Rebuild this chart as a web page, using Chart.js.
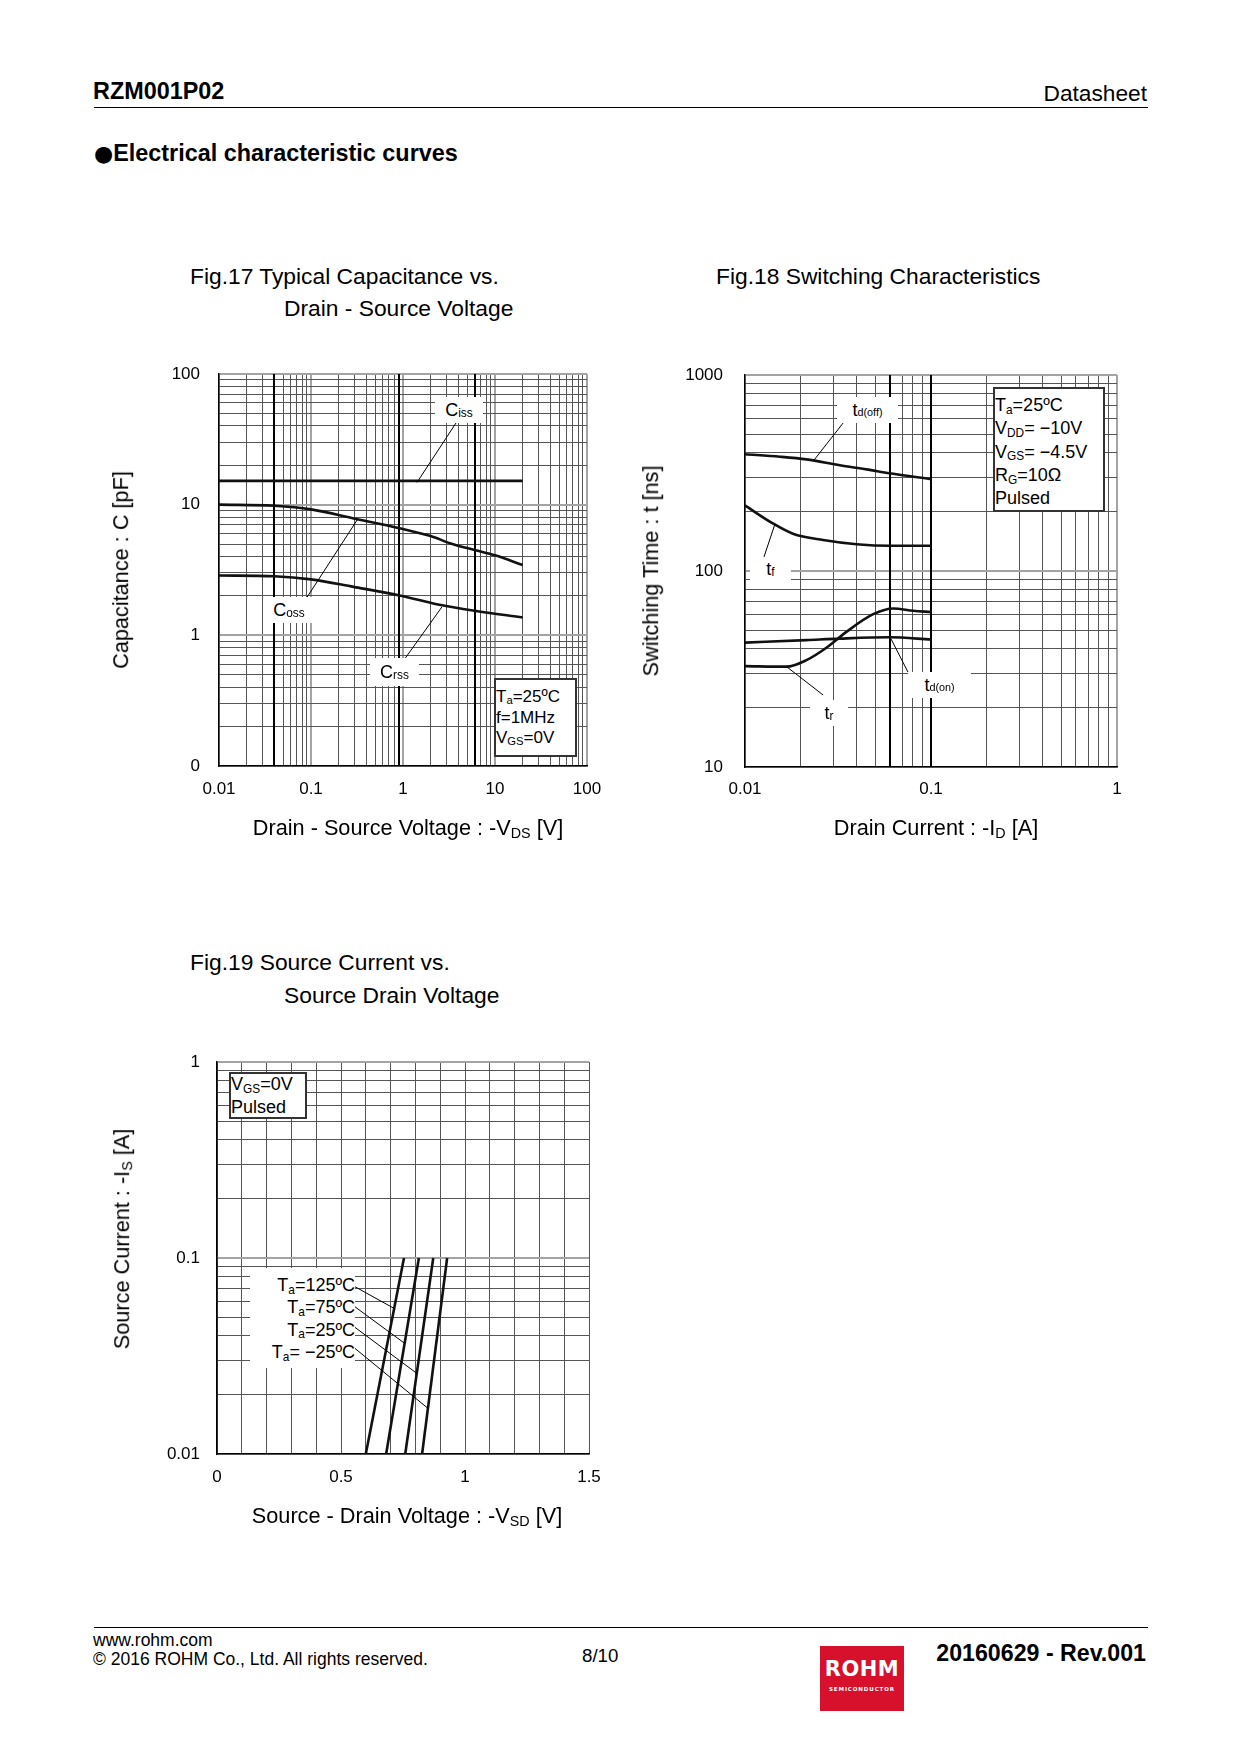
<!DOCTYPE html>
<html>
<head>
<meta charset="utf-8">
<title>RZM001P02 Datasheet 8/10</title>
<script src="https://cdn.jsdelivr.net/npm/chart.js@4.4.1/dist/chart.umd.min.js"></script>
<style>
  html, body { margin: 0; padding: 0; background: #fff; }
  body { width: 1240px; height: 1754px; position: relative; overflow: hidden;
         font-family: "Liberation Sans", Arial, Helvetica, sans-serif; color: #000; }
  .t { position: absolute; white-space: nowrap; line-height: 1; }
  canvas { position: absolute; }
  .sub { font-size: 0.66em; position: relative; top: 0.22em; }
  .rule { position: absolute; left: 94px; width: 1054px; height: 0; border-top: 1.5px solid #000; }
  .lab { position: absolute; background: #fff; display: flex; align-items: center;
         justify-content: center; font-size: 18px; white-space: nowrap; }
  .cond { position: absolute; box-sizing: border-box; background: #fff; border: 2px solid #333;
          white-space: nowrap; }
  .ytitle { transform: translate(-50%, -50%) rotate(-90deg); }
  .ctr { transform: translateX(-50%); }
  .ax { font-size: 21.7px; }
  .fig { font-size: 22.8px; }
</style>
</head>
<body>

<!-- header -->
<div class="t" style="left:93px; top:80px; font-size:23.4px; font-weight:bold;">RZM001P02</div>
<div class="t" style="right:93px; top:82px; font-size:22.7px;">Datasheet</div>
<div class="rule" style="top:107px;"></div>
<div class="t" style="left:94px; top:142px; font-size:23.4px; font-weight:bold;"><span style="font-family:'DejaVu Sans', sans-serif; font-size:22px; font-weight:normal;">●</span>Electrical characteristic curves</div>

<!-- figure titles -->
<div class="t fig" style="left:190px; top:265px;">Fig.17 Typical Capacitance vs.</div>
<div class="t fig" style="left:284px; top:297px;">Drain - Source Voltage</div>
<div class="t fig" style="left:716px; top:265px;">Fig.18 Switching Characteristics</div>
<div class="t fig" style="left:190px; top:951px;">Fig.19 Source Current vs.</div>
<div class="t fig" style="left:284px; top:984px;">Source Drain Voltage</div>

<canvas id="fig17" width="520" height="500" style="left:100px; top:340px;"></canvas>
<canvas id="fig18" width="520" height="500" style="left:640px; top:340px;"></canvas>
<canvas id="fig19" width="520" height="500" style="left:100px; top:1030px;"></canvas>

<!-- axis titles -->
<div class="t ctr ax" style="left:408px; top:817px;">Drain - Source Voltage : -V<span class="sub">DS</span> [V]</div>
<div class="t ytitle ax" style="left:121px; top:570px;">Capacitance : C [pF]</div>
<div class="t ctr ax" style="left:936px; top:817px;">Drain Current : -I<span class="sub">D</span> [A]</div>
<div class="t ytitle ax" style="left:651px; top:571px;">Switching Time : t [ns]</div>
<div class="t ctr ax" style="left:407px; top:1505px;">Source - Drain Voltage : -V<span class="sub">SD</span> [V]</div>
<div class="t ytitle ax" style="left:122px; top:1239px;">Source Current : -I<span class="sub">S</span> [A]</div>

<!-- Fig.17 annotations -->
<div class="lab" style="left:435px; top:397px; width:48px; height:26px;">C<span class="sub">iss</span></div>
<div class="lab" style="left:265px; top:597px; width:48px; height:26px;">C<span class="sub">oss</span></div>
<div class="lab" style="left:370px; top:658px; width:49px; height:28px;">C<span class="sub">rss</span></div>
<div class="cond" style="left:494px; top:678px; width:83px; height:79px; padding-top:7px; font-size:17px; line-height:20px;">
  T<span class="sub">a</span>=25ºC<br>f=1MHz<br>V<span class="sub">GS</span>=0V
</div>

<!-- Fig.18 annotations -->
<div class="lab" style="left:837px; top:397px; width:61px; height:26px;">t<span class="sub" style="font-size:0.6em;">d(off)</span></div>
<div class="lab" style="left:750px; top:557px; width:41px; height:24px;">t<span class="sub">f</span></div>
<div class="lab" style="left:908px; top:672px; width:63px; height:26px;">t<span class="sub" style="font-size:0.6em;">d(on)</span></div>
<div class="lab" style="left:810px; top:700px; width:38px; height:26px;">t<span class="sub">r</span></div>
<div class="cond" style="left:993px; top:387px; width:112px; height:125px; padding-top:6px; font-size:18px; line-height:21.3px;">
  T<span class="sub">a</span>=25ºC<br>V<span class="sub">DD</span>= −10V<br>V<span class="sub">GS</span>= −4.5V<br>R<span class="sub">G</span>=10Ω<br>Pulsed
</div>

<!-- Fig.19 annotations -->
<div class="cond" style="left:229px; top:1072px; width:78px; height:47px; padding-top:0px; font-size:18px; line-height:21px;">
  V<span class="sub">GS</span>=0V<br>Pulsed
</div>
<div class="t" style="left:250px; top:1268px; width:105px; height:100px; box-sizing:border-box; padding-top:7px; background:#fff; text-align:right; font-size:18px; line-height:20.3px;">
  T<span class="sub">a</span>=125ºC<br>T<span class="sub">a</span>=75ºC<br>T<span class="sub">a</span>=25ºC<br>T<span class="sub">a</span>= −25ºC
</div>

<!-- footer -->
<div class="rule" style="top:1627px;"></div>
<div class="t" style="left:93px; top:1632px; font-size:17.5px;">www.rohm.com</div>
<div class="t" style="left:93px; top:1651px; font-size:17.5px;">© 2016 ROHM Co., Ltd. All rights reserved.</div>
<div class="t" style="left:582px; top:1647px; font-size:18.7px;">8/10</div>
<div style="position:absolute; left:820px; top:1646px; width:84px; height:65px; background:#d7102c;">
  <div class="t" style="left:0; width:84px; top:13px; text-align:center; color:#fff; font-family:'DejaVu Sans', sans-serif; font-weight:bold; font-size:21px; letter-spacing:0.5px;">ROHM</div>
  <div class="t" style="left:0; width:84px; top:41px; text-align:center; color:#fff; font-family:'DejaVu Sans', sans-serif; font-weight:bold; font-size:5.5px; letter-spacing:0.9px;">SEMICONDUCTOR</div>
</div>
<div class="t" style="right:94px; top:1642px; font-size:23.2px; font-weight:bold;">20160629 - Rev.001</div>

<script>
// ---- Fig.17  capacitance vs drain-source voltage ----
const cissV = [0.01, 1, 20];
const cissC = [15.2, 15.2, 15.2];
const cossV = [0.01, 0.04, 0.1, 0.29, 0.92, 2, 3.3, 6, 10, 20];
const cossC = [10, 9.8, 9.2, 7.85, 6.6, 5.75, 5.05, 4.5, 4.1, 3.45];
const crssV = [0.01, 0.04, 0.1, 0.29, 0.92, 2.4, 6, 20];
const crssC = [2.87, 2.83, 2.68, 2.35, 2.02, 1.72, 1.54, 1.37];
const fig17XTicks = [0.01, 0.1, 1, 10, 100];
const fig17XLabels = ['0.01', '0.1', '1', '10', '100'];
const fig17YTicks = [0.1, 1, 10, 100];
const fig17YLabels = ['0', '1', '10', '100'];
const fig17BoldX = [0.04, 0.9, 6];
const fig17Leaders = [
  [[3.77, 42.2], [1.42, 14.8]],
  [[0.08, 1.71], [0.32, 7.7]],
  [[0.905, 0.573], [2.65, 1.65]]
];

// ---- Fig.18  switching characteristics ----
const tdoffI = [0.01, 0.0154, 0.0214, 0.0324, 0.045, 0.06, 0.1];
const tdoffT = [394, 383, 371, 346, 330, 315, 294];
const tfI = [0.01, 0.0141, 0.0181, 0.0263, 0.0398, 0.06, 0.1];
const tfT = [216, 175, 155, 144, 137, 134.5, 134.5];
const tdonI = [0.01, 0.0214, 0.0324, 0.06, 0.1];
const tdonT = [43.1, 44.4, 45.2, 45.9, 44.7];
const trI = [0.01, 0.0167, 0.0214, 0.0274, 0.0351, 0.0489, 0.0627, 0.0803, 0.1];
const trT = [32.7, 32.5, 35.1, 40.6, 48.9, 60.2, 64.4, 62.7, 61.8];
const fig18XTicks = [0.01, 0.1, 1];
const fig18XLabels = ['0.01', '0.1', '1'];
const fig18YTicks = [10, 100, 1000];
const fig18YLabels = ['10', '100', '1000'];
const fig18BoldX = [0.06, 0.1];
const fig18Leaders = [
  [[0.0337, 569], [0.0235, 368]],
  [[0.01265, 118], [0.0145, 174]],
  [[0.0752, 30.5], [0.061, 45]],
  [[0.0263, 23.3], [0.0168, 32.4]]
];

// ---- Fig.19  source current vs source-drain voltage ----
const isA = [0.01, 0.1];
const vsd125 = [0.600, 0.754];
const vsd75 = [0.682, 0.814];
const vsd25 = [0.759, 0.872];
const vsdm25 = [0.827, 0.928];
const fig19XTicks = [0, 0.5, 1, 1.5];
const fig19XLabels = ['0', '0.5', '1', '1.5'];
const fig19YTicks = [0.01, 0.1, 1];
const fig19YLabels = ['0.01', '0.1', '1'];
const fig19LabelY = [0.0714, 0.0564, 0.0443, 0.0346]; // label rows, leader start
const fig19LabelX = 0.556;
const fig19LeaderEndY = [0.0553, 0.0367, 0.0258, 0.0171];

Chart.defaults.font.family = '"Liberation Sans", Arial, sans-serif';
Chart.defaults.color = '#000';

function pts(xs, ys) { return xs.map((x, i) => ({ x: x, y: ys[i] })); }

function logGrid(min, max) {
  const out = [];
  for (let d = min; d < max * 0.999; d *= 10) {
    for (let k = 1; k <= 9; k++) out.push(+(k * d).toPrecision(6));
  }
  out.push(max);
  return out;
}
function linGrid(min, max, step) {
  const out = [];
  for (let v = min; v <= max + 1e-9; v += step) out.push(+v.toFixed(6));
  return out;
}
function isDecade(v) {
  if (!(v > 0)) return false;
  const l = Math.log10(v);
  return Math.abs(l - Math.round(l)) < 1e-7;
}
function labelFor(values, labels) {
  return function (v) {
    const i = values.findIndex(t => Math.abs(t - v) < 1e-9);
    return i >= 0 ? labels[i] : '';
  };
}

function axis(o) {
  return {
    type: o.type, min: o.min, max: o.max,
    afterBuildTicks: s => { s.ticks = o.grid.map(v => ({ value: v })); },
    afterFit: s => { if (o.vertical) s.width = o.size; else s.height = o.size; },
    ticks: {
      autoSkip: false, maxRotation: 0, minRotation: 0, padding: o.pad,
      color: '#000', font: { size: 17 },
      callback: labelFor(o.tickVals, o.tickLabels)
    },
    grid: {
      drawTicks: false,
      color: c => (c.tick && o.major(c.tick.value)) ? '#a3a3a3' : '#555',
      lineWidth: c => (c.tick && o.major(c.tick.value)) ? 2 : 1
    },
    border: { display: true, color: '#000', width: 1.5 },
    title: { display: false }
  };
}

const overlay = {
  id: 'overlay',
  beforeDatasetsDraw(chart, args, opts) {
    const { ctx, chartArea, scales } = chart;
    ctx.save();
    ctx.strokeStyle = '#000';
    ctx.lineWidth = 2;
    (opts.boldX || []).forEach(v => {
      const px = Math.round(scales.x.getPixelForValue(v));
      ctx.beginPath();
      ctx.moveTo(px, chartArea.top);
      ctx.lineTo(px, chartArea.bottom);
      ctx.stroke();
    });
    ctx.restore();
  },
  afterDatasetsDraw(chart, args, opts) {
    const { ctx, scales } = chart;
    ctx.save();
    ctx.strokeStyle = '#000';
    ctx.lineWidth = 1;
    (opts.leaders || []).forEach(l => {
      ctx.beginPath();
      ctx.moveTo(scales.x.getPixelForValue(l[0][0]), scales.y.getPixelForValue(l[0][1]));
      ctx.lineTo(scales.x.getPixelForValue(l[1][0]), scales.y.getPixelForValue(l[1][1]));
      ctx.stroke();
    });
    ctx.restore();
  }
};

function curve(data, mode) {
  return {
    data: data, borderColor: '#111', borderWidth: 2.6, pointRadius: 0,
    fill: false, cubicInterpolationMode: mode || 'monotone', tension: 0
  };
}

function makeChart(id, datasets, xAxis, yAxis, pad, plug) {
  return new Chart(document.getElementById(id), {
    type: 'line',
    data: { datasets: datasets },
    options: {
      responsive: false, animation: false, events: [],
      layout: { padding: pad },
      scales: { x: xAxis, y: yAxis },
      plugins: { legend: { display: false }, tooltip: { enabled: false }, overlay: plug }
    },
    plugins: [overlay]
  });
}

// Fig.17
makeChart('fig17',
  [curve(pts(cissV, cissC)), curve(pts(cossV, cossC)), curve(pts(crssV, crssC))],
  axis({ type: 'logarithmic', min: 0.01, max: 100, grid: logGrid(0.01, 100), tickVals: fig17XTicks,
         tickLabels: fig17XLabels, size: 74, pad: 13, vertical: false, major: isDecade }),
  axis({ type: 'logarithmic', min: 0.1, max: 100, grid: logGrid(0.1, 100), tickVals: fig17YTicks,
         tickLabels: fig17YLabels, size: 119, pad: 19, vertical: true, major: isDecade }),
  { top: 34, right: 33, left: 0, bottom: 0 },
  { boldX: fig17BoldX, leaders: fig17Leaders });

// Fig.18
makeChart('fig18',
  [curve(pts(tdoffI, tdoffT)), curve(pts(tfI, tfT)), curve(pts(tdonI, tdonT)), curve(pts(trI, trT))],
  axis({ type: 'logarithmic', min: 0.01, max: 1, grid: logGrid(0.01, 1), tickVals: fig18XTicks,
         tickLabels: fig18XLabels, size: 73, pad: 12, vertical: false, major: isDecade }),
  axis({ type: 'logarithmic', min: 10, max: 1000, grid: logGrid(10, 1000), tickVals: fig18YTicks,
         tickLabels: fig18YLabels, size: 105, pad: 22, vertical: true, major: isDecade }),
  { top: 35, right: 43, left: 0, bottom: 0 },
  { boldX: fig18BoldX, leaders: fig18Leaders });

// Fig.19 leaders end on each curve at the given current
function vAt(v, y) { return v[0] + (v[1] - v[0]) * Math.log10(y / isA[0]) / Math.log10(isA[1] / isA[0]); }
const fig19Curves = [vsd125, vsd75, vsd25, vsdm25];
const fig19Leaders = fig19Curves.map((v, i) =>
  [[fig19LabelX, fig19LabelY[i]], [vAt(v, fig19LeaderEndY[i]), fig19LeaderEndY[i]]]);

makeChart('fig19',
  fig19Curves.map(v => curve(pts(v, isA), 'default')),
  axis({ type: 'linear', min: 0, max: 1.5, grid: linGrid(0, 1.5, 0.1), tickVals: fig19XTicks,
         tickLabels: fig19XLabels, size: 76, pad: 13, vertical: false, major: () => false }),
  axis({ type: 'logarithmic', min: 0.01, max: 1, grid: logGrid(0.01, 1), tickVals: fig19YTicks,
         tickLabels: fig19YLabels, size: 117, pad: 17, vertical: true, major: isDecade }),
  { top: 32, right: 31, left: 0, bottom: 0 },
  { leaders: fig19Leaders });
</script>
</body>
</html>
